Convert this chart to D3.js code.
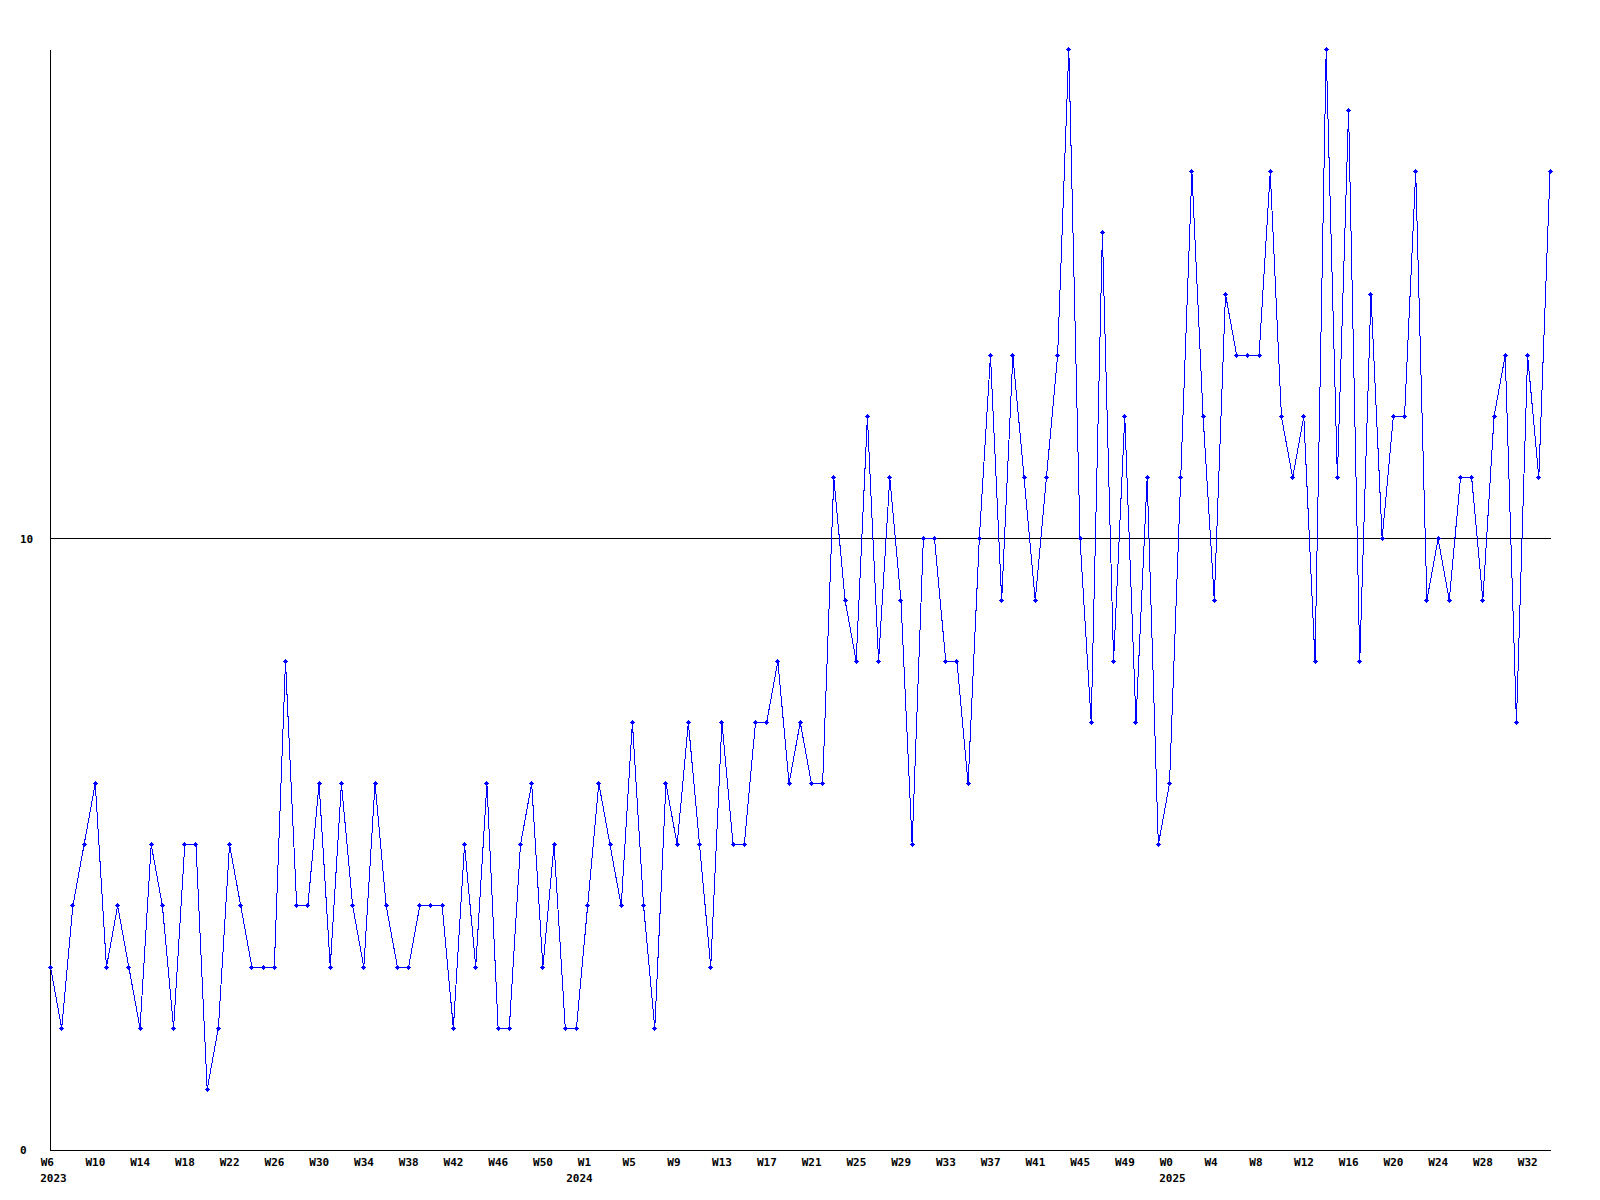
<!DOCTYPE html>
<html>
<head>
<meta charset="utf-8">
<script src="https://cdn.jsdelivr.net/npm/d3@7"></script>
<style>
  html, body { margin: 0; padding: 0; background: #ffffff; }
  svg { display: block; }
  text { font-family: "DejaVu Sans Mono", "Liberation Mono", monospace; font-weight: bold; font-size: 11px; fill: #000; }
</style>
</head>
<body>
<svg id="chart" width="1600" height="1200"></svg>
<script>
// ---- data ----
const yearSegments = [
  { year: "2023", first: 6, last: 52 },
  { year: "2024", first: 0, last: 52 },
  { year: "2025", first: 0, last: 34 }
];
const values = [
  3,2,4,5,6,3,4,3,2,5,
  4,2,5,5,1,2,5,4,3,3,
  3,8,4,4,6,3,6,4,3,6,
  4,3,3,4,4,4,2,5,3,6,
  2,2,5,6,3,5,2,2,4,6,
  5,4,7,4,2,6,5,7,5,3,
  7,5,5,7,7,8,6,7,6,6,
  11,9,8,12,8,11,9,5,10,10,
  8,8,6,10,13,9,13,11,9,11,
  13,18,10,7,15,8,12,7,11,5,
  6,11,16,12,9,14,13,13,13,16,
  12,11,12,8,18,11,17,8,14,10,
  12,12,16,9,10,9,11,11,9,12,
  13,7,13,11,16
];
const yTickValues = [0, 10];
const yDomain = [0, 18];
const tickEvery = 4;

(function () {
  // categories (year + week label)
  const categories = [];
  yearSegments.forEach(s => {
    for (let w = s.first; w <= s.last; w++) categories.push({ key: s.year + "-W" + w, year: s.year, week: "W" + w });
  });
  const data = categories.map((c, i) => ({ key: c.key, year: c.year, week: c.week, value: values[i] }));

  // ---- layout ----
  const svg = d3.select("#chart");
  const mLeft = 50.5, mRight = 1550, mTop = 49.5, mBottom = 1150.5;

  const x = d3.scalePoint().domain(data.map(d => d.key)).range([mLeft, mRight]);
  const y = d3.scaleLinear().domain(yDomain).range([mBottom, mTop]);

  // reference line at 10
  const y10 = Math.floor(y(10)) + 0.5;
  svg.append("line")
    .attr("x1", mLeft).attr("x2", mRight + 1)
    .attr("y1", y10).attr("y2", y10)
    .attr("stroke", "#000").attr("stroke-width", 1)
    .attr("shape-rendering", "crispEdges");

  // x axis
  const tickKeys = data.filter((d, i) => i % tickEvery === 0).map(d => d.key);
  const byKey = new Map(data.map(d => [d.key, d]));
  const xAxis = d3.axisBottom(x).tickValues(tickKeys).tickSize(0).tickSizeOuter(0)
    .tickFormat(k => byKey.get(k).week);
  const gx = svg.append("g").attr("transform", `translate(0,${mBottom - 0.5})`).call(xAxis);
  gx.select(".domain").attr("stroke", "#000").attr("shape-rendering", "crispEdges")
    .attr("d", `M${mLeft - 0.5},0.5H${mRight + 1}`);
  gx.selectAll(".tick text")
    .attr("text-anchor", "start")
    .attr("x", -10.3).attr("y", 16).attr("dy", null)
    .style("font-family", "'DejaVu Sans Mono', monospace").style("font-weight", "bold").style("font-size", "11px").attr("fill", "#000");

  // year labels at the first week of each year
  yearSegments.forEach(s => {
    const k = data.find(d => d.year === s.year).key;
    gx.append("text")
      .attr("x", x(k) - 10.3).attr("y", 31.5)
      .attr("text-anchor", "start")
      .text(s.year);
  });

  // y axis
  const yAxis = d3.axisLeft(y).tickValues(yTickValues).tickSize(0).tickSizeOuter(0).tickFormat(d3.format("d"));
  const gy = svg.append("g").attr("transform", `translate(${mLeft - 0.5},0)`).call(yAxis);
  gy.select(".domain").attr("stroke", "#000").attr("shape-rendering", "crispEdges")
    .attr("d", `M0.5,${mTop + 0.5}V${mBottom + 0.5}`);
  gy.selectAll(".tick text")
    .attr("text-anchor", "start")
    .attr("x", 20 - (mLeft - 0.5)).attr("dy", "3.6")
    .style("font-family", "'DejaVu Sans Mono', monospace").style("font-weight", "bold").style("font-size", "11px").attr("fill", "#000");
  gy.selectAll(".tick").filter(d => d === 0).select("text").attr("dy", "3.2");

  // line
  const line = d3.line().x(d => x(d.key)).y(d => y(d.value));
  svg.append("path")
    .datum(data)
    .attr("d", line)
    .attr("fill", "none")
    .attr("stroke", "#0000ff")
    .attr("stroke-width", 1)
    .attr("shape-rendering", "crispEdges");

  // markers (small pixel diamonds)
  svg.append("g").selectAll("path")
    .data(data)
    .join("path")
    .attr("d", d => {
      const cx = Math.floor(x(d.key)), cy = Math.floor(y(d.value));
      return `M${cx - 2},${cy}h5v1h-5z M${cx - 1},${cy - 1}h3v3h-3z M${cx},${cy - 2}h1v5h-1z`;
    })
    .attr("fill", "#0000ff")
    .attr("shape-rendering", "crispEdges");
})();
</script>
</body>
</html>
